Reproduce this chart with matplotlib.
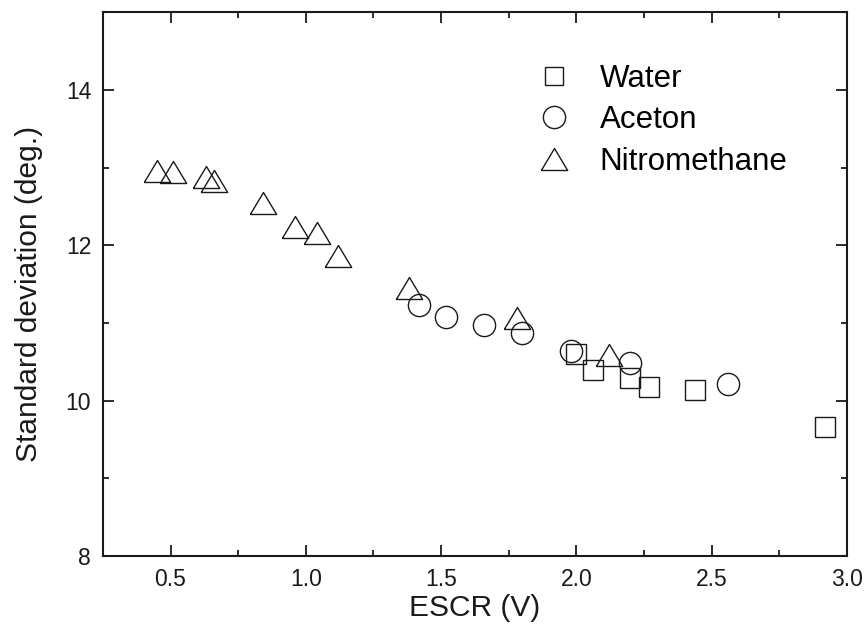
import numpy as np
import matplotlib
matplotlib.use("Agg")
import matplotlib.pyplot as plt
from matplotlib.lines import Line2D
from matplotlib.ticker import MultipleLocator, FormatStrFormatter

plt.rcParams["font.family"] = ["Liberation Sans", "DejaVu Sans"]

# ESCR (V) vs standard deviation (deg.)
water_x = [2.00, 2.06, 2.20, 2.27, 2.44, 2.92]
water_y = [10.60, 10.39, 10.29, 10.18, 10.14, 9.66]

aceton_x = [1.42, 1.52, 1.66, 1.80, 1.98, 2.20, 2.56]
aceton_y = [11.23, 11.08, 10.97, 10.87, 10.64, 10.48, 10.21]

nitro_x = [0.45, 0.51, 0.63, 0.66, 0.84, 0.96, 1.04, 1.12, 1.38, 1.78, 2.12]
nitro_y = [12.96, 12.94, 12.88, 12.83, 12.54, 12.24, 12.16, 11.86, 11.45, 11.06, 10.59]

labels = ["Water", "Aceton", "Nitromethane"]

# slightly flattened triangle, like the original
tri = [(-1.2, -1.0), (1.2, -1.0), (0.0, 1.0), (-1.2, -1.0)]

fig = plt.figure(figsize=(8.65, 6.39), dpi=100)
ax = fig.add_axes([0.119, 0.130, 0.860, 0.851])

style = dict(linestyle="none", markerfacecolor="none", markeredgecolor="#1a1a1a",
             markeredgewidth=1.0)
ax.plot(water_x, water_y, marker="s", markersize=14, **style)
ax.plot(aceton_x, aceton_y, marker="o", markersize=16, **style)
ax.plot(nitro_x, nitro_y, marker=tri, markersize=19, **style)

handles = [
    Line2D([], [], marker="s", markersize=13, **style),
    Line2D([], [], marker="o", markersize=16, **style),
    Line2D([], [], marker=tri, markersize=19, **style),
]
ax.legend(handles, labels, loc="upper left", bbox_to_anchor=(0.586, 0.905),
          frameon=False, fontsize=22.5, handlelength=1.0, handletextpad=0.95,
          labelspacing=0.37, borderpad=0, borderaxespad=0)

ax.set_xlim(0.25, 3.0)
ax.set_ylim(8, 15)
ax.xaxis.set_major_locator(MultipleLocator(0.5))
ax.xaxis.set_minor_locator(MultipleLocator(0.25))
ax.yaxis.set_major_locator(MultipleLocator(2))
ax.yaxis.set_minor_locator(MultipleLocator(1))
ax.xaxis.set_major_formatter(FormatStrFormatter("%.1f"))

ax.tick_params(which="both", direction="in", top=True, right=True,
               width=1.3, colors="#1a1a1a", labelsize=16.5, pad=8.5)
ax.tick_params(which="major", length=8)
ax.tick_params(which="minor", length=4.5)
for s in ax.spines.values():
    s.set_linewidth(1.5)
    s.set_color("#1a1a1a")

ax.set_xlabel("ESCR (V)", fontsize=21.5, labelpad=2, color="#1a1a1a")
ax.set_ylabel("Standard deviation (deg.)", fontsize=21.5, color="#1a1a1a")
ax.yaxis.set_label_coords(-0.081, 0.482)

plt.savefig("out.png", dpi=100)
plt.close()
